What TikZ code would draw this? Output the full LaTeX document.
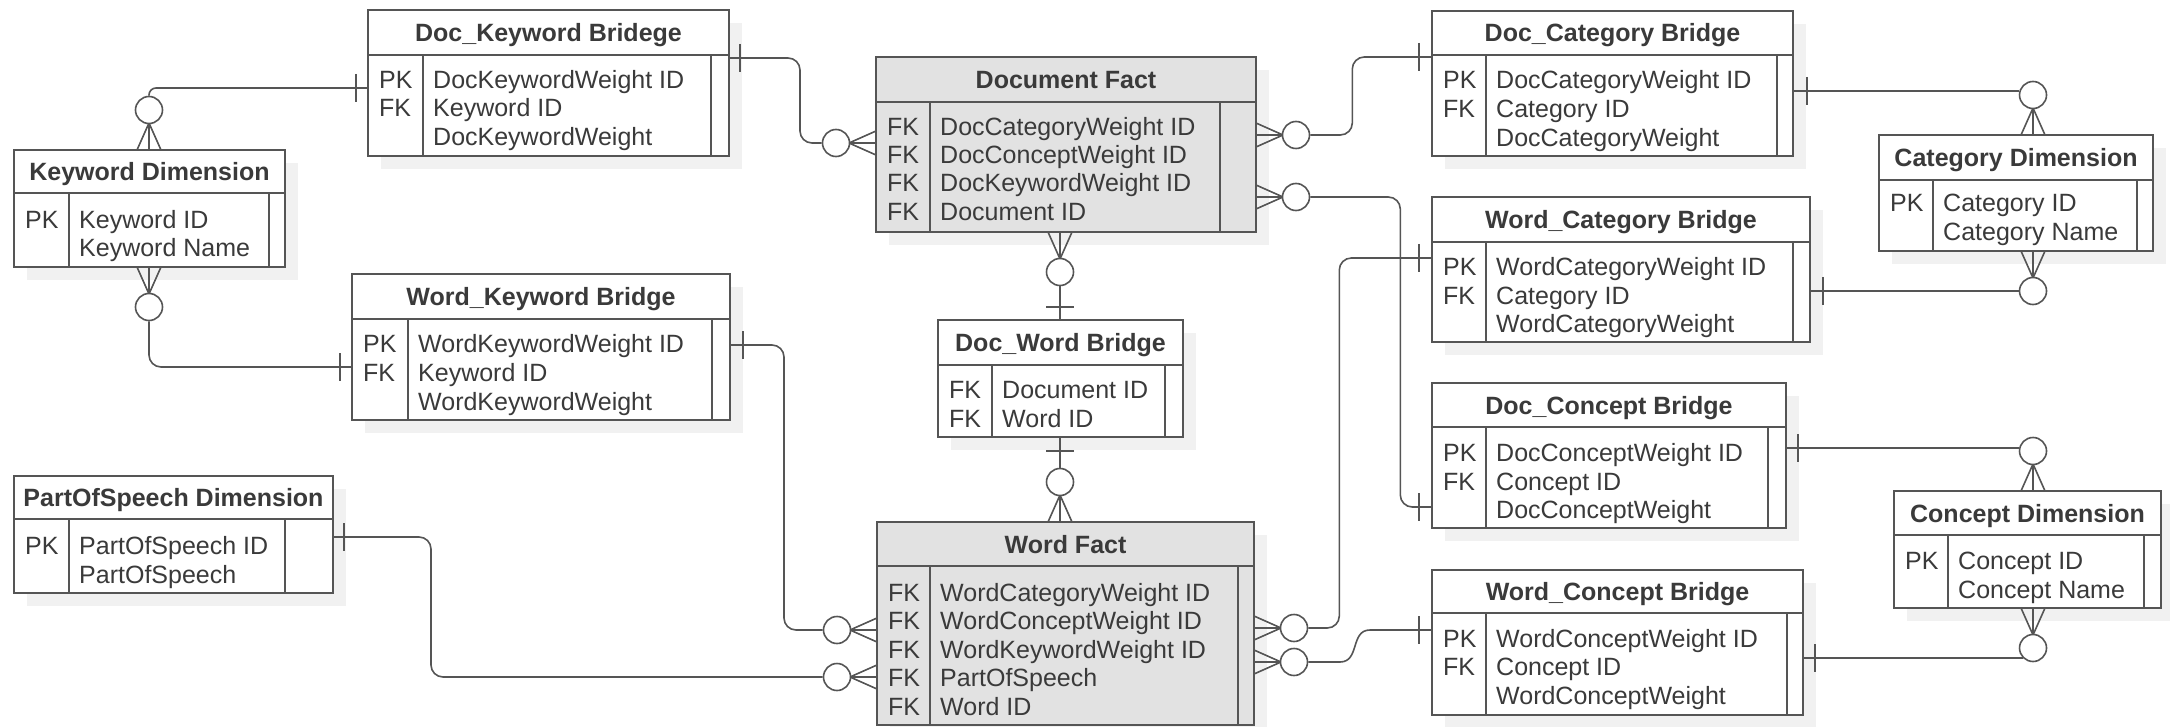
\documentclass[tikz,border=0pt]{standalone}
\usepackage{fontspec}
\setmainfont{Liberation Sans}
\usetikzlibrary{fit}
\definecolor{lnc}{HTML}{555555}
\definecolor{txc}{HTML}{3A3A3A}
\definecolor{factc}{HTML}{E2E2E2}
\definecolor{shc}{HTML}{F1F1F1}
\tikzset{
 tblbox/.style={draw=lnc, line width=2pt, inner sep=0pt},
 tblline/.style={draw=lnc, line width=1.6pt},
 hdrline/.style={draw=lnc, line width=2.4pt},
 conn/.style={draw=lnc, line width=1.6pt},
 ocirc/.style={circle, draw=lnc, line width=1.6pt, fill=white, minimum size=27pt, inner sep=0pt},
 ttl/.style={font=\fontsize{25}{30}\selectfont\bfseries, text=txc, inner sep=0pt, anchor=base},
 fld/.style={font=\fontsize{25}{30}\selectfont, text=txc, inner sep=0pt, anchor=base west},
}
% name, x1, y1, x2, y2, header y, divider x, inner x, fill
\newcommand\ertable[9]{%
  \fill[shc] ({#2+13},{#3+13}) rectangle ({#4+13},{#5+13});
  \node[tblbox, fill=#9, fit={(#2,#3)(#4,#5)}] (#1) {};
  \draw[hdrline] (#2,#6) -- (#4,#6);
  \draw[tblline] (#7,#6) -- (#7,#5);
  \draw[tblline] (#8,#6) -- (#8,#5);
}
\newcommand\kf[6]{%
  \node[fld] (#1k) at (#2,{#4+9}) {#5};
  \node[fld] (#1f) at (#3,{#4+9}) {#6};
}
\newcommand\fo[4]{\node[fld] (#1f) at (#2,{#3+9}) {#4};}
\newcommand\vmark[2]{\draw[conn] (#1,{#2-14}) -- (#1,{#2+14});}
\newcommand\hmark[2]{\draw[conn] ({#1-14},#2) -- ({#1+14},#2);}
% name, x, y (edge point), dx, dy
\newcommand\crow[5]{%
  \coordinate (#1-p) at ({#2+27*(#4)},{#3+27*(#5)});
  \draw[conn] ({#2+12*(#5)},{#3+12*(#4)}) -- (#1-p) -- ({#2-12*(#5)},{#3-12*(#4)});
  \draw[conn] (#2,#3) -- (#1-p);
  \node[ocirc] (#1) at ({#2+40*(#4)},{#3+40*(#5)}) {};
}
\begin{document}
\begin{tikzpicture}[x=1pt,y=-1pt]
\useasboundingbox (0,0) rectangle (2170,727);
\fill[white] (0,0) rectangle (2170,727);

% ---------- tables ----------
\ertable{dkb}{368}{10}{729}{156}{55}{423}{711}{white}
\node[ttl] (dkbt) at (548.5,41.5) {Doc\_Keyword Bridege};
\kf{dkb1}{379}{433}{80}{PK}{DocKeywordWeight ID}
\kf{dkb2}{379}{433}{108}{FK}{Keyword ID}
\fo{dkb3}{433}{137}{DocKeywordWeight}

\ertable{kd}{14}{150}{285}{267}{193}{69}{269}{white}
\node[ttl] (kdt) at (149.5,180.5) {Keyword Dimension};
\kf{kd1}{25}{79}{220}{PK}{Keyword ID}
\fo{kd2}{79}{248}{Keyword Name}

\ertable{wkb}{352}{274}{730}{420}{319}{408}{712}{white}
\node[ttl] (wkbt) at (541,305.5) {Word\_Keyword Bridge};
\kf{wkb1}{363}{418}{343}{PK}{WordKeywordWeight ID}
\kf{wkb2}{363}{418}{372}{FK}{Keyword ID}
\fo{wkb3}{418}{401}{WordKeywordWeight}

\ertable{pos}{14}{476}{333}{593}{519}{69}{285}{white}
\node[ttl] (post) at (173.5,506.5) {PartOfSpeech Dimension};
\kf{pos1}{25}{79}{545}{PK}{PartOfSpeech ID}
\fo{pos2}{79}{574}{PartOfSpeech}

\ertable{df}{876}{57}{1256}{232}{102}{930}{1220}{factc}
\node[ttl] (dft) at (1066,88.5) {Document Fact};
\kf{df1}{887}{940}{127}{FK}{DocCategoryWeight ID}
\kf{df2}{887}{940}{155}{FK}{DocConceptWeight ID}
\kf{df3}{887}{940}{183}{FK}{DocKeywordWeight ID}
\kf{df4}{887}{940}{212}{FK}{Document ID}

\ertable{dwb}{938}{320}{1183}{437}{365}{992}{1165}{white}
\node[ttl] (dwbt) at (1060.5,351.5) {Doc\_Word Bridge};
\kf{dwb1}{949}{1002}{389}{FK}{Document ID}
\kf{dwb2}{949}{1002}{418}{FK}{Word ID}

\ertable{wf}{877}{522}{1254}{725}{566}{930}{1238}{factc}
\node[ttl] (wft) at (1065.5,553) {Word Fact};
\kf{wf1}{888}{940}{592}{FK}{WordCategoryWeight ID}
\kf{wf2}{888}{940}{620.5}{FK}{WordConceptWeight ID}
\kf{wf3}{888}{940}{649}{FK}{WordKeywordWeight ID}
\kf{wf4}{888}{940}{677.5}{FK}{PartOfSpeech}
\kf{wf5}{888}{940}{706}{FK}{Word ID}

\ertable{dcb}{1432}{11}{1793}{156}{55}{1486}{1777}{white}
\node[ttl] (dcbt) at (1612.5,42) {Doc\_Category Bridge};
\kf{dcb1}{1443}{1496}{80}{PK}{DocCategoryWeight ID}
\kf{dcb2}{1443}{1496}{109}{FK}{Category ID}
\fo{dcb3}{1496}{138}{DocCategoryWeight}

\ertable{cd}{1879}{135}{2153}{251}{180}{1933}{2137}{white}
\node[ttl] (cdt) at (2016,166.5) {Category Dimension};
\kf{cd1}{1890}{1943}{203}{PK}{Category ID}
\fo{cd2}{1943}{232}{Category Name}

\ertable{wcb}{1432}{197}{1810}{342}{242}{1486}{1793}{white}
\node[ttl] (wcbt) at (1621,228.5) {Word\_Category Bridge};
\kf{wcb1}{1443}{1496}{267}{PK}{WordCategoryWeight ID}
\kf{wcb2}{1443}{1496}{295}{FK}{Category ID}
\fo{wcb3}{1496}{323}{WordCategoryWeight}

\ertable{dcob}{1432}{383}{1786}{528}{427}{1486}{1768}{white}
\node[ttl] (dcobt) at (1609,414) {Doc\_Concept Bridge};
\kf{dcob1}{1443}{1496}{452}{PK}{DocConceptWeight ID}
\kf{dcob2}{1443}{1496}{481}{FK}{Concept ID}
\fo{dcob3}{1496}{509}{DocConceptWeight}

\ertable{cod}{1894}{491}{2161}{608}{535}{1948}{2144}{white}
\node[ttl] (codt) at (2027.5,522) {Concept Dimension};
\kf{cod1}{1905}{1958}{560}{PK}{Concept ID}
\fo{cod2}{1958}{589}{Concept Name}

\ertable{wcob}{1432}{570}{1803}{715}{613}{1486}{1787}{white}
\node[ttl] (wcobt) at (1617.5,600.5) {Word\_Concept Bridge};
\kf{wcob1}{1443}{1496}{638}{PK}{WordConceptWeight ID}
\kf{wcob2}{1443}{1496}{666}{FK}{Concept ID}
\fo{wcob3}{1496}{695}{WordConceptWeight}

% ---------- attachment points ----------
\coordinate (dkbL) at (368,88);
\coordinate (dkbR) at (729,58);
\coordinate (wkbL) at (352,367);
\coordinate (wkbR) at (730,345);
\coordinate (posR) at (333,537);
\coordinate (dwbT) at (1060,320);
\coordinate (dwbB) at (1060,437);
\coordinate (dcbL) at (1432,57);
\coordinate (dcbR) at (1793,91);
\coordinate (wcbL) at (1432,258);
\coordinate (wcbR) at (1810,291);
\coordinate (dcobL) at (1432,507);
\coordinate (dcobR) at (1786,448);
\coordinate (wcobL) at (1432,630);
\coordinate (wcobR) at (1803,658);

% ---------- crow's feet ----------
\crow{kdT}{149}{150}{0}{-1}
\crow{kdB}{149}{267}{0}{1}
\crow{dfL}{876}{143}{-1}{0}
\crow{dfR1}{1256}{135}{1}{0}
\crow{dfR2}{1256}{197}{1}{0}
\crow{dfB}{1060}{232}{0}{1}
\crow{wfT}{1060}{522}{0}{-1}
\crow{wfL1}{877}{630}{-1}{0}
\crow{wfL2}{877}{677}{-1}{0}
\crow{wfR1}{1254}{628}{1}{0}
\crow{wfR2}{1254}{662}{1}{0}
\crow{cdT}{2033}{135}{0}{-1}
\crow{cdB}{2033}{251}{0}{1}
\crow{codT}{2033}{491}{0}{-1}
\crow{codB}{2033}{608}{0}{1}

% ---------- connectors ----------
\draw[conn, rounded corners=7pt] (kdT.north) |- (dkbL);
\draw[conn, rounded corners=12pt] (kdB.south) |- (wkbL);
\draw[conn, rounded corners=12pt] (dkbR) -- ++(71,0) |- (dfL.west);
\draw[conn, rounded corners=12pt] (dfR1.east) -- ++(42,0) |- (dcbL);
\draw[conn, rounded corners=12pt] (dfR2.east) -- ++(90,0) |- (dcobL);
\draw[conn] (dfB.south) -- (dwbT);
\draw[conn] (dwbB) -- (wfT.north);
\draw[conn, rounded corners=12pt] (wkbR) -- ++(54,0) |- (wfL1.west);
\draw[conn, rounded corners=12pt] (posR) -- ++(98,0) |- (wfL2.west);
\draw[conn, rounded corners=12pt] (wfR1.east) -- ++(31,0) |- (wcbL);
\draw[conn] (wfR2.east) -- (1340,662) .. controls (1360,662) and (1350,630) .. (1370,630) -- (wcobL);
\draw[conn] (dcbR) -- (cdT.west |- dcbR);
\draw[conn] (wcbR) -- (cdB.west |- wcbR);
\draw[conn] (dcobR) -- (codT.west |- dcobR);
\draw[conn] (wcobR) -- (codB.south west |- wcobR);

% ---------- one-mandatory marks ----------
\vmark{356}{88}
\vmark{340}{367}
\vmark{740}{58}
\vmark{743}{345}
\vmark{344}{537}
\vmark{1419}{57}
\vmark{1419}{507}
\vmark{1419}{258}
\vmark{1419}{630}
\vmark{1807}{91}
\vmark{1823}{291}
\vmark{1798}{448}
\vmark{1815}{658}
\hmark{1060}{307}
\hmark{1060}{451}
\end{tikzpicture}
\end{document}
